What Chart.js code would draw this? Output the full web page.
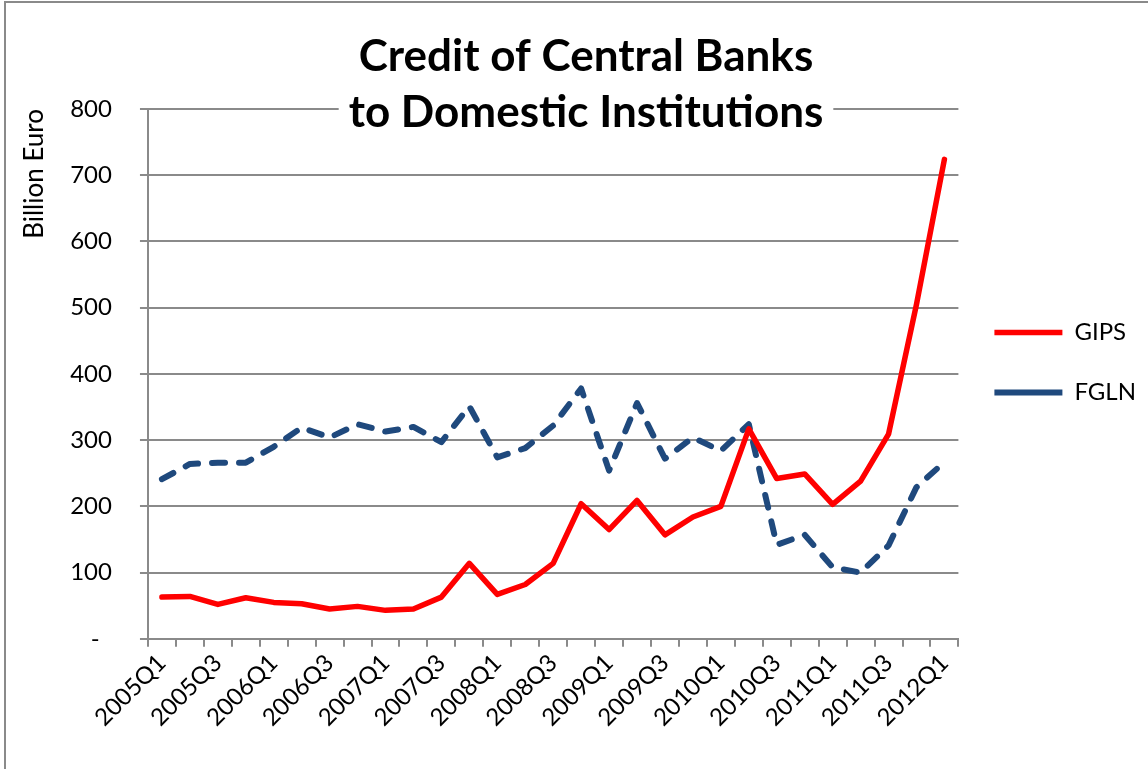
<!DOCTYPE html>
<html>
<head>
<meta charset="utf-8">
<title>Credit of Central Banks to Domestic Institutions</title>
<script src="https://cdn.jsdelivr.net/npm/chart.js@4.4.1/dist/chart.umd.min.js"></script>
<style>
  html, body { margin: 0; padding: 0; background: #fff; overflow: hidden; }
  #wrap { position: relative; width: 1148px; height: 769px; }
  #frame { position: absolute; left: 4px; top: 1px; width: 1300px; height: 900px;
           border-left: 2px solid #8a8a8a; border-top: 2px solid #8a8a8a; pointer-events: none; }
  canvas { position: absolute; left: 0; top: 0; }
</style>
</head>
<body>
<div id="wrap">
  <canvas id="creditChart" width="1148" height="769"></canvas>
  <div id="frame"></div>
</div>
<script>
// ---------- DATA ----------
const quarters = [
  "2005Q1", "2005Q2", "2005Q3", "2005Q4",
  "2006Q1", "2006Q2", "2006Q3", "2006Q4",
  "2007Q1", "2007Q2", "2007Q3", "2007Q4",
  "2008Q1", "2008Q2", "2008Q3", "2008Q4",
  "2009Q1", "2009Q2", "2009Q3", "2009Q4",
  "2010Q1", "2010Q2", "2010Q3", "2010Q4",
  "2011Q1", "2011Q2", "2011Q3", "2011Q4",
  "2012Q1"
];

// billion euro
const gips = [63, 64, 52, 62, 55, 53, 45, 49, 43, 45, 63, 114, 67, 82, 114,
              204, 165, 209, 157, 184, 200, 317, 242, 249, 203, 238, 309, 505, 724];
const fgln = [241, 264, 266, 266, 290, 319, 304, 324, 313, 320, 297, 351, 274, 288, 322,
              378, 254, 356, 272, 304, 284, 324, 142, 157, 108, 100, 141, 229, 267];

const titleLines = ["Credit of Central Banks", "to Domestic Institutions"];

Chart.defaults.font.family = "Lato, 'Open Sans', sans-serif";
Chart.defaults.color = "#000";

// title sits on top of the plot with a white box behind it (Excel style)
const overlayTitle = {
  id: "overlayTitle",
  afterDraw(chart) {
    const ctx = chart.ctx;
    ctx.save();
    ctx.font = "bold 44px Lato, 'Open Sans', sans-serif";
    const w = Math.max(...titleLines.map(t => ctx.measureText(t).width));
    const cx = 586;
    ctx.fillStyle = "#fff";
    ctx.fillRect(cx - w / 2 - 10, 28, w + 20, 110);
    ctx.fillStyle = "#000";
    ctx.textAlign = "center";
    ctx.textBaseline = "middle";
    ctx.fillText(titleLines[0], cx, 57);
    ctx.fillText(titleLines[1], cx, 113);
    ctx.restore();
  }
};

const ctx = document.getElementById("creditChart").getContext("2d");

new Chart(ctx, {
  type: "line",
  data: {
    labels: quarters,
    datasets: [
      {
        label: "GIPS",
        data: gips,
        borderColor: "#ff0000",
        backgroundColor: "#ff0000",
        borderWidth: 5.5,
        borderCapStyle: "round",
        borderJoinStyle: "round",
        pointRadius: 0,
        tension: 0,
        fill: false
      },
      {
        label: "FGLN",
        data: fgln,
        borderColor: "#1f497d",
        backgroundColor: "#1f497d",
        borderWidth: 6,
        borderDash: [13, 14],
        borderCapStyle: "round",
        borderJoinStyle: "round",
        pointRadius: 0,
        tension: 0,
        fill: false
      }
    ]
  },
  options: {
    responsive: false,
    devicePixelRatio: 1,
    animation: false,
    layout: {
      padding: { left: 19, top: 109, right: 2, bottom: 35 }
    },
    plugins: {
      title: { display: false },
      tooltip: { enabled: false },
      legend: {
        position: "right",
        fullSize: false,
        align: "center",
        // empty title with negative padding just nudges the items up a bit
        title: { display: true, text: "", font: { size: 1 }, padding: { top: -24, bottom: 0 } },
        labels: {
          usePointStyle: true,
          pointStyle: "line",
          pointStyleWidth: 68,
          boxHeight: 24,
          padding: 36,
          font: { size: 24 },
          color: "#000"
        }
      }
    },
    scales: {
      x: {
        offset: true,
        border: { color: "#8a8a8a", width: 2 },
        grid: {
          offset: true,
          drawOnChartArea: false,
          drawTicks: true,
          tickLength: 8,
          color: "#8a8a8a",
          lineWidth: 2
        },
        ticks: {
          autoSkip: false,
          maxRotation: 45,
          minRotation: 45,
          padding: 2,
          font: { size: 24 },
          color: "#000",
          callback: function (val, idx) {
            return idx % 2 === 0 ? quarters[idx] : "";
          }
        }
      },
      y: {
        min: 0,
        max: 800,
        border: { color: "#8a8a8a", width: 2 },
        grid: {
          color: "#8a8a8a",
          lineWidth: 2,
          tickLength: 8
        },
        ticks: {
          stepSize: 100,
          padding: 28,
          font: { size: 24 },
          color: "#000",
          callback: v => (v === 0 ? "-  " : v)
        },
        title: {
          display: true,
          text: "Billion Euro",
          align: "end",
          font: { size: 26 },
          color: "#000",
          padding: { top: 0, bottom: -8 }
        }
      }
    }
  },
  plugins: [overlayTitle]
});
</script>
</body>
</html>
